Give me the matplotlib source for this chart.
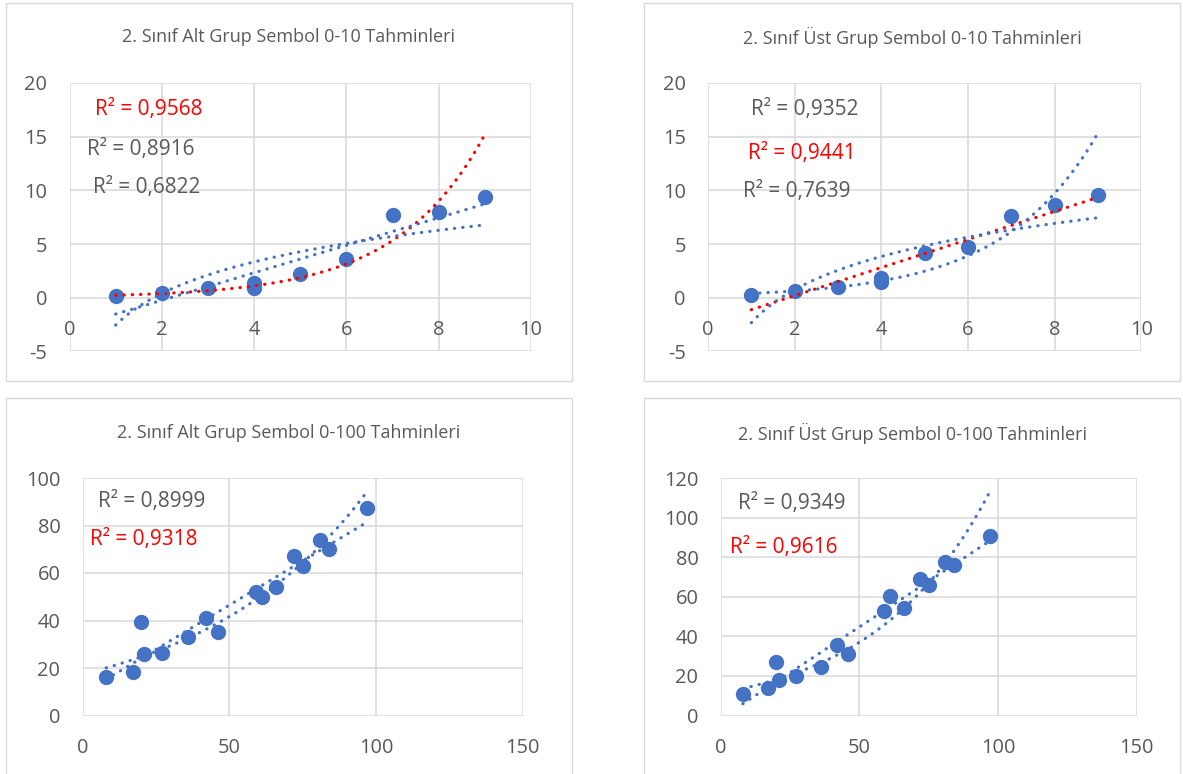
import numpy as np
import matplotlib
matplotlib.use('Agg')
import matplotlib.pyplot as plt
from matplotlib.patches import Rectangle

plt.rcParams['font.family'] = ['Open Sans', 'DejaVu Sans']
plt.rcParams['axes.unicode_minus'] = False

# data
x_small = [1, 2, 3, 4, 4, 5, 6, 7, 8, 9]
alt_small = [0.12, 0.45, 0.9, 1.4, 0.95, 2.25, 3.6, 7.7, 8.0, 9.4]
ust_small = [0.25, 0.65, 1.0, 1.8, 1.5, 4.2, 4.7, 7.6, 8.6, 9.55]

x_big = [8, 17, 20, 21, 27, 36, 42, 46, 59, 61, 66, 72, 75, 81, 84, 97]
alt_big = [16.2, 18.3, 39.3, 25.8, 26.2, 33.2, 41.0, 35.2, 52.0, 50.1, 54.0, 67.0, 63.0, 74.0, 70.0, 87.4]
ust_big = [10.8, 13.8, 27.0, 17.7, 20.2, 24.4, 35.4, 31.2, 52.9, 60.2, 54.3, 68.9, 66.1, 77.5, 75.8, 90.8]

titles = ['2. Sınıf Alt Grup Sembol 0-10 Tahminleri',
          '2. Sınıf Üst Grup Sembol 0-10 Tahminleri',
          '2. Sınıf Alt Grup Sembol 0-100 Tahminleri',
          '2. Sınıf Üst Grup Sembol 0-100 Tahminleri']
r2_labels = [['R² = 0,9568', 'R² = 0,8916', 'R² = 0,6822'],
             ['R² = 0,9352', 'R² = 0,9441', 'R² = 0,7639'],
             ['R² = 0,8999', 'R² = 0,9318'],
             ['R² = 0,9349', 'R² = 0,9616']]

BLUE = '#4472C4'
RED = '#FF0000'
GRAY = '#595959'
GRID = '#D9D9D9'

W, H = 1183, 774
fig = plt.figure(figsize=(W / 100, H / 100), dpi=100)


def px_rect(x0, y0, x1, y1):
    return [x0 / W, 1 - y1 / H, (x1 - x0) / W, (y1 - y0) / H]


def fit_line(x, y, kind):
    # Excel-style trendlines: linear, exponential, logarithmic
    x = np.asarray(x, float)
    y = np.asarray(y, float)
    xs = np.linspace(x.min(), x.max(), 200)
    if kind == 'lin':
        b, a = np.polyfit(x, y, 1)
        return xs, a + b * xs
    if kind == 'exp':
        b, a = np.polyfit(x, np.log(y), 1)
        return xs, np.exp(a) * np.exp(b * xs)
    b, a = np.polyfit(np.log(x), y, 1)
    return xs, a + b * np.log(xs)


panels = [
    dict(frame=(5.6, 3, 571.6, 381), ax=(69.5, 83, 531, 351.4), title_y=37,
         x=x_small, y=alt_small, xlim=(0, 10), xt=np.arange(0, 11, 2),
         ylim=(-5, 20), yt=np.arange(-5, 21, 5),
         fits=[('exp', RED), ('lin', BLUE), ('log', BLUE)],
         labels=[(149, 110, RED), (141, 150, GRAY), (147, 188, GRAY)]),
    dict(frame=(644, 3, 1180, 381), ax=(708, 83, 1141.3, 351.4), title_y=37,
         x=x_small, y=ust_small, xlim=(0, 10), xt=np.arange(0, 11, 2),
         ylim=(-5, 20), yt=np.arange(-5, 21, 5),
         fits=[('lin', RED), ('exp', BLUE), ('log', BLUE)],
         labels=[(805, 110, GRAY), (802, 153, RED), (797, 192, GRAY)]),
    dict(frame=(5.6, 398, 571.6, 790), ax=(82.7, 478, 522.7, 715.5), title_y=433,
         x=x_big, y=alt_big, xlim=(0, 150), xt=[0, 50, 100, 150],
         ylim=(0, 100), yt=np.arange(0, 101, 20),
         fits=[('exp', BLUE), ('lin', BLUE)],
         labels=[(152, 501, GRAY), (144, 540, RED)]),
    dict(frame=(644, 398, 1180, 790), ax=(720.7, 478, 1136.7, 715.5), title_y=433,
         x=x_big, y=ust_big, xlim=(0, 150), xt=[0, 50, 100, 150],
         ylim=(0, 120), yt=np.arange(0, 121, 20),
         fits=[('exp', BLUE), ('lin', BLUE)],
         labels=[(792, 503, GRAY), (784, 548, RED)]),
]

for i, p in enumerate(panels):
    fx0, fy0, fx1, fy1 = p['frame']
    fig.add_artist(Rectangle((fx0 / W, 1 - fy1 / H), (fx1 - fx0) / W, (fy1 - fy0) / H,
                             transform=fig.transFigure, fill=False, ec=GRID, lw=1))
    fig.text((fx0 + fx1) / 2 / W, 1 - p['title_y'] / H, titles[i],
             ha='center', va='center', fontsize=13, color=GRAY)

    ax = fig.add_axes(px_rect(*p['ax']))
    ax.set_facecolor('none')
    ax.set_xlim(*p['xlim'])
    ax.set_ylim(*p['ylim'])
    ax.set_xticks(p['xt'])
    ax.set_yticks(p['yt'])
    ax.grid(True, color=GRID, lw=1.1, zorder=0)
    ax.set_axisbelow(True)
    for s in ax.spines.values():
        s.set_visible(False)
    ax.spines['bottom'].set_position(('data', 0))
    ax.tick_params(length=0, labelsize=14.4, labelcolor=GRAY)
    ax.tick_params(axis='x', pad=16)
    ax.tick_params(axis='y', pad=16)

    ax.scatter(p['x'], p['y'], s=100, color=BLUE, zorder=3, clip_on=False)
    for kind, col in p['fits']:
        xs, ys = fit_line(p['x'], p['y'], kind)
        ax.plot(xs, ys, color=col, lw=2.3, linestyle=(0, (0.1, 2.5)),
                dash_capstyle='round', zorder=4, clip_on=False)

    for (lx, ly, col), txt in zip(p['labels'], r2_labels[i]):
        fig.text(lx / W, 1 - ly / H, txt, ha='center', va='center',
                 fontsize=15, color=col)

fig.savefig('out.png', dpi=100)
